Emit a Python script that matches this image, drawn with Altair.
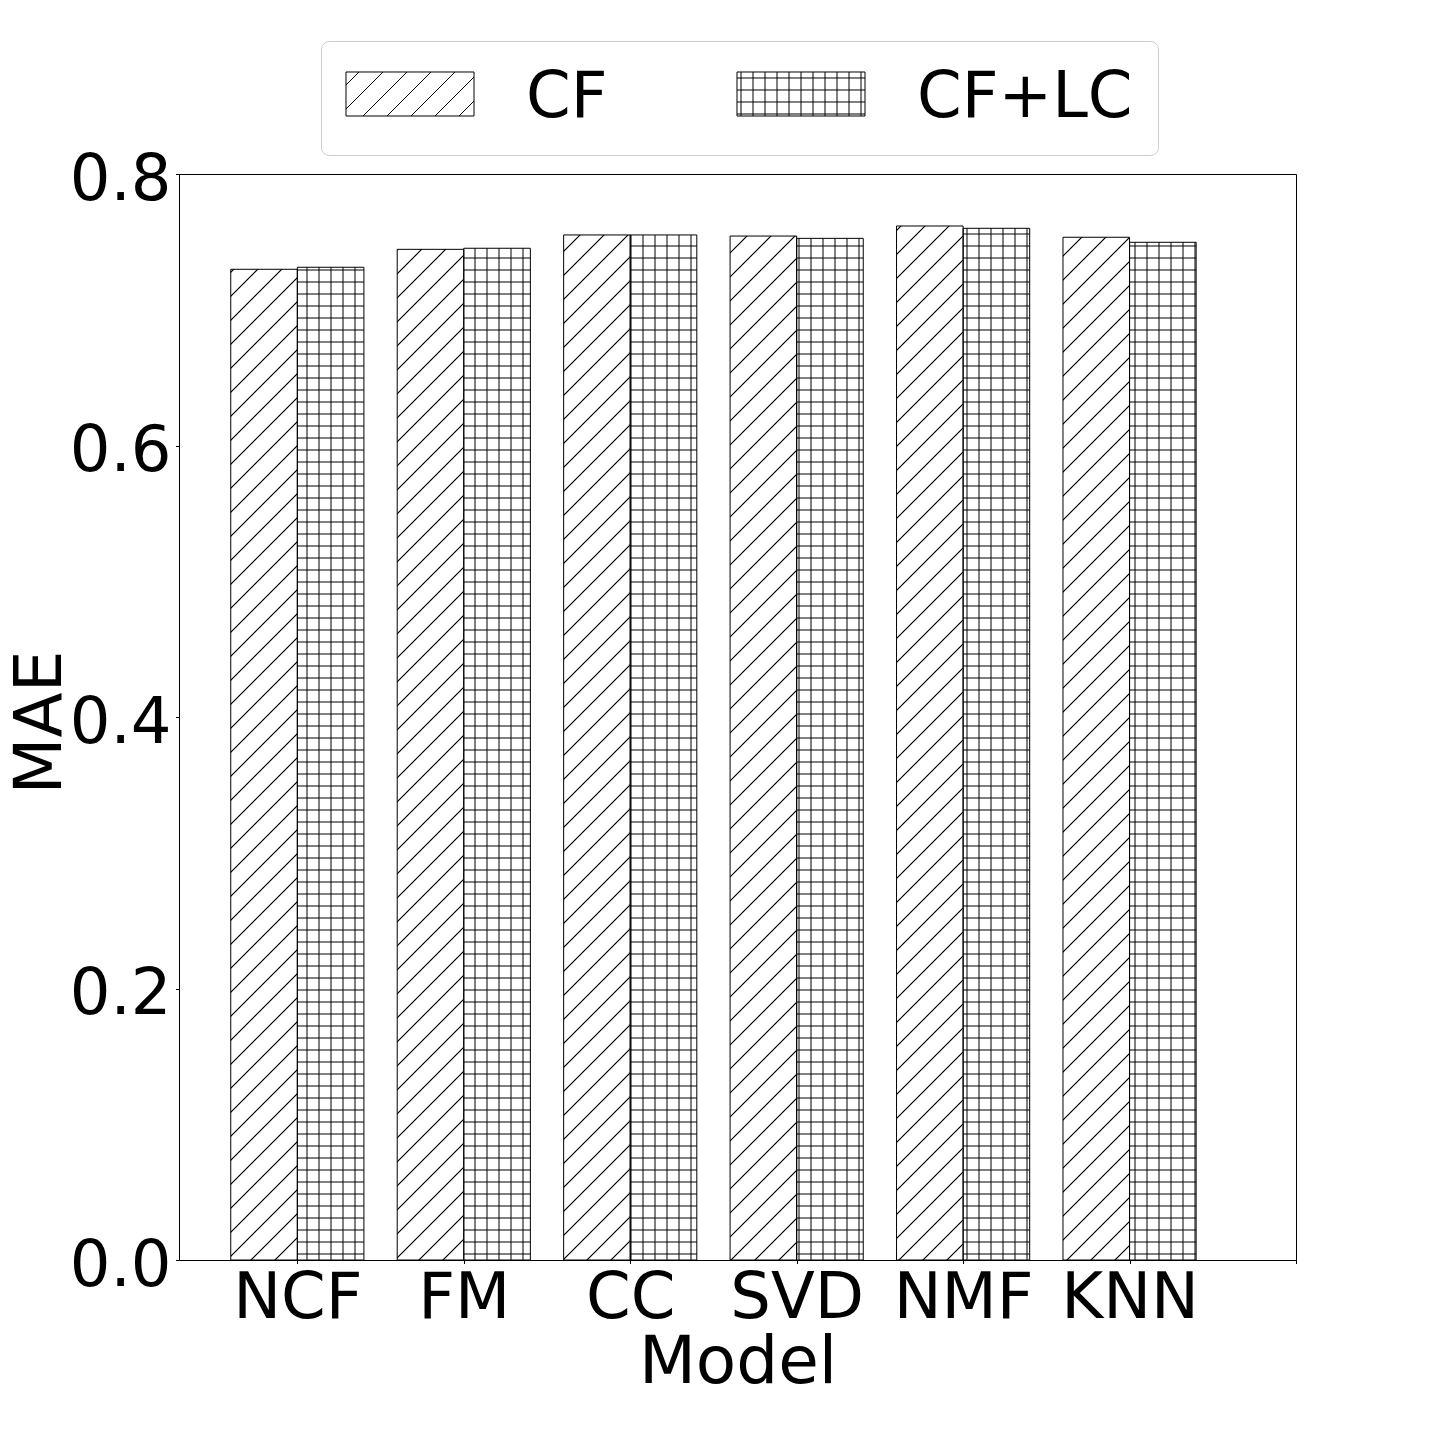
import json
import altair as alt
import pandas as pd

# ---------------- data ----------------
models = ["NCF", "FM", "CC", "SVD", "NMF", "KNN"]
series = ["CF", "CF+LC"]
mae_cf = [0.7298, 0.7445, 0.7551, 0.7543, 0.7617, 0.7534]
mae_cflc = [0.7313, 0.7453, 0.7551, 0.7526, 0.7600, 0.7497]
y_ticks = [0.0, 0.2, 0.4, 0.6, 0.8]
x_tick_labels = models + [""]

# ---------------- layout / style ----------------
PLOT_W, PLOT_H = 1117, 1086
PAD_L, PAD_T, PAD_R, PAD_B = 171, 166, 30, 220
ORIGIN_X, ORIGIN_Y = 8 + PAD_L, 8 + PAD_T
X_MIN, X_MAX = -0.711, 6.0
Y_MAX = 0.8
BAR = 0.4
FONT = "DejaVu Sans"
TICK_FS, TITLE_FS, LEG_FS = 64, 66, 64

rows = []
for i, m in enumerate(models):
    for s, vals in enumerate([mae_cf, mae_cflc]):
        rows.append({"model": m, "series": series[s], "value": vals[i],
                     "idx": i, "s": s, "key": f"{m}|{series[s]}"})
df = pd.DataFrame(rows)


def px_x(v):
    return ORIGIN_X + (v - X_MIN) / (X_MAX - X_MIN) * PLOT_W


def px_y(v):
    return ORIGIN_Y + (1 - v / Y_MAX) * PLOT_H


BAR_W = BAR / (X_MAX - X_MIN) * PLOT_W


def diag_gradient(x0, y0, w, h, step=24.0, phase=23.0):
    L = w + h
    c = L / (w * w + h * h)
    start = (phase - x0 - y0) % step
    stops = []
    D = start - step
    while D < L + step:
        for d, col in [(-1.3, "white"), (-0.35, "black"), (0.35, "black"), (1.3, "white")]:
            t = (D + d) / L
            if 0 <= t <= 1:
                stops.append((t, col))
        D += step
    if not stops:
        stops = [(0, "white"), (1, "white")]
    return alt.LinearGradient(
        gradient="linear",
        stops=[alt.GradientStop(offset=float(t), color=col) for t, col in stops],
        x1=0, y1=0, x2=float(c * w), y2=float(c * h))


def stripe_gradient(p0, length, vertical, step=12.0, phase=7.0, half=1.0):
    clear, gray = "rgba(0,0,0,0)", "rgba(0,0,0,0.5)"
    stops = [(0.0, clear)]
    k = int((p0 - phase) // step) - 1
    while True:
        P = phase + step * k
        a = (P - half - p0) / length
        b = (P + half - p0) / length
        if a > 1:
            break
        if b >= 0:
            a = max(0.0, min(1.0, a))
            b = max(0.0, min(1.0, b))
            stops += [(a, clear), (a, gray), (b, gray), (b, clear)]
        k += 1
    stops.append((1.0, clear))
    x2, y2 = (0, 1) if vertical else (1, 0)
    return alt.LinearGradient(
        gradient="linear",
        stops=[alt.GradientStop(offset=float(t), color=col) for t, col in stops],
        x1=0, y1=0, x2=x2, y2=y2)


# ---------------- axes ----------------
x_axis = alt.Axis(
    values=list(range(len(x_tick_labels))),
    labelExpr=f"{json.dumps(x_tick_labels)}[round(datum.value)]",
    grid=False, labelFlush=False, labelOverlap=False,
    labelFont=FONT, labelFontSize=TICK_FS, labelColor="black", labelPadding=2.5,
    tickColor="black", tickSize=3.5, tickWidth=1, domainColor="black", domainWidth=1,
    title="Model", titleFont=FONT, titleFontSize=TITLE_FS, titleFontWeight="normal",
    titleColor="black", titleY=70, titleBaseline="top")

y_axis = alt.Axis(
    values=y_ticks, format=".1f", grid=False,
    labelFont=FONT, labelFontSize=TICK_FS, labelColor="black", labelPadding=4.5,
    labelOffset=6,
    tickColor="black", tickSize=3.5, tickWidth=1, domainColor="black", domainWidth=1,
    title="MAE", titleFont=FONT, titleFontSize=TITLE_FS, titleFontWeight="normal",
    titleColor="black", titleX=-119, titleY=548, titleAngle=270,
    titleAlign="center", titleBaseline="alphabetic")

base = alt.Chart(df).transform_calculate(
    start=f"datum.idx - {BAR} + {BAR} * datum.s",
    end=f"datum.idx + {BAR} * datum.s",
    zero="0",
).encode(
    x=alt.X("start:Q", scale=alt.Scale(domain=[X_MIN, X_MAX], nice=False, zero=False), axis=x_axis),
    x2="end:Q",
    y=alt.Y("value:Q", scale=alt.Scale(domain=[0, Y_MAX], nice=False), axis=y_axis),
    y2="zero:Q",
)

layers = [base.mark_bar(fill="white", strokeWidth=0)]

for i, m in enumerate(models):
    for s, vals in enumerate([mae_cf, mae_cflc]):
        key = f"{m}|{series[s]}"
        x0 = px_x(i - BAR + BAR * s)
        y0 = px_y(vals[i])
        h = px_y(0) - y0
        sub = base.transform_filter(alt.datum.key == key)
        if s == 0:
            layers.append(sub.mark_bar(fill=diag_gradient(x0, y0, BAR_W, h), strokeWidth=0))
        else:
            layers.append(sub.mark_bar(fill=stripe_gradient(x0, BAR_W, False, phase=7.0), strokeWidth=0))
            layers.append(sub.mark_bar(fill=stripe_gradient(y0, h, True, phase=6.0), strokeWidth=0))

layers.append(base.mark_bar(fill="transparent", stroke="black", strokeWidth=1))

# ---------------- legend symbols (custom paths) ----------------
R = 30.0  # px per symbol unit (sqrt(size)/2)
LEG_LEFT, LEG_TOP, LEG_PAD = 321, 41, 25
ENTRY = 64
SYM_OFF = 33
ENTRY2_START = 735
SYM_TOP, SYM_BOT = 72, 116


def rect_path(ul, ur, vt, vb):
    return f"M{ul:.4f},{vt:.4f}L{ur:.4f},{vt:.4f}L{ur:.4f},{vb:.4f}L{ul:.4f},{vb:.4f}Z"


def cf_symbol():
    cx = LEG_LEFT + LEG_PAD + ENTRY / 2 + SYM_OFF
    cy = LEG_TOP + LEG_PAD + ENTRY / 2
    ul, ur = (346 - cx) / R, (474 - cx) / R
    vt, vb = (SYM_TOP - cy) / R, (SYM_BOT - cy) / R
    p = rect_path(ul, ur, vt, vb)
    lo, hi = (ul + vt) * R + cx + cy, (ur + vb) * R + cx + cy
    S = lo - ((lo - 23) % 24) + 24
    while S < hi:
        s = (S - cx - cy) / R
        ua, ub = max(ul, s - vb), min(ur, s - vt)
        if ua < ub:
            p += f"M{ua:.4f},{s - ua:.4f}L{ub:.4f},{s - ub:.4f}"
        S += 24
    return p


def lc_symbol():
    cx = ENTRY2_START + ENTRY / 2 + SYM_OFF
    cy = LEG_TOP + LEG_PAD + ENTRY / 2
    ul, ur = (ENTRY2_START - cx) / R, (ENTRY2_START + 128 - cx) / R
    vt, vb = (SYM_TOP - cy) / R, (SYM_BOT - cy) / R
    p = rect_path(ul, ur, vt, vb)
    X = ENTRY2_START - ((ENTRY2_START - 7) % 12) + 12
    while X < ENTRY2_START + 128:
        u = (X - cx) / R
        p += f"M{u:.4f},{vt:.4f}L{u:.4f},{vb:.4f}"
        X += 12
    Y = SYM_TOP - ((SYM_TOP - 6) % 12) + 12
    while Y < SYM_BOT:
        v = (Y - cy) / R
        p += f"M{ul:.4f},{v:.4f}L{ur:.4f},{v:.4f}"
        Y += 12
    return p


legend = alt.Legend(
    title=None, orient="none", direction="horizontal",
    legendX=LEG_LEFT - ORIGIN_X, legendY=LEG_TOP - ORIGIN_Y,
    padding=LEG_PAD, cornerRadius=8, strokeColor="#cccccc", fillColor="white",
    symbolSize=3600, symbolStrokeWidth=1, symbolStrokeColor="black",
    symbolFillColor="transparent", symbolOpacity=1, symbolOffset=SYM_OFF,
    labelOffset=83, columnPadding=126, labelLimit=0,
    labelFont=FONT, labelFontSize=LEG_FS, labelColor="black")

legend_layer = alt.Chart(df).mark_point(
    filled=False, color="black", opacity=1, size=3600, strokeWidth=1, clip=True
).encode(
    x=alt.value(0), y=alt.value(-3000),
    shape=alt.Shape("series:N", scale=alt.Scale(domain=series, range=[cf_symbol(), lc_symbol()]),
                    legend=legend),
)
layers.append(legend_layer)

chart = alt.layer(*layers).properties(
    width=PLOT_W, height=PLOT_H,
    autosize=alt.AutoSizeParams(type="none"),
    padding={"left": PAD_L, "top": PAD_T, "right": PAD_R, "bottom": PAD_B},
    background="white",
).configure(font=FONT, view=alt.ViewConfig(stroke="black", strokeWidth=1))

chart.save("out.html", embed_options={"renderer": "svg", "actions": False})
